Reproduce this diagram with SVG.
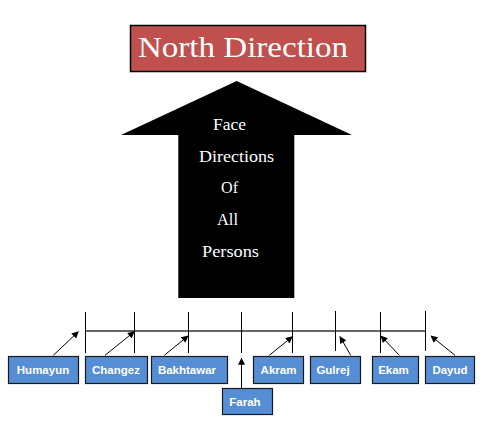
<svg xmlns="http://www.w3.org/2000/svg" width="483" height="426" viewBox="0 0 483 426">
<defs>
<marker id="ah" viewBox="0 0 10 10" refX="9" refY="5" markerWidth="8" markerHeight="7" markerUnits="userSpaceOnUse" orient="auto">
<path d="M0,0 L10,5 L0,10 z" fill="#000"/>
</marker>
</defs>
<style>
.box{fill:#558ED5;stroke:#1a1a1a;stroke-width:1.2}
.lbl{font-family:"Liberation Sans",Arial,sans-serif;font-weight:bold;font-size:11.5px;fill:#fff;text-anchor:middle}
.arw{stroke:#000;stroke-width:1;fill:none;marker-end:url(#ah)}
.tick{stroke:#000;stroke-width:1}
.ser{font-family:"Liberation Serif","Times New Roman",serif;fill:#fff}
</style>
<rect width="483" height="426" fill="#fff"/>
<g id="title">
<rect x="130.5" y="25.5" width="235" height="46" fill="#C0504D" stroke="#000" stroke-width="1.5"/>
<text class="ser" x="138" y="57" font-size="30" textLength="210" lengthAdjust="spacingAndGlyphs">North Direction</text>
</g>
<g id="arrow">
<polygon points="236.7,81 352,135 294.3,135 294.3,298 178.3,298 178.3,135 121,135" fill="#000"/>
<text class="ser" x="213" y="130" font-size="16" textLength="33" lengthAdjust="spacingAndGlyphs">Face</text>
<text class="ser" x="199" y="162" font-size="16" textLength="75" lengthAdjust="spacingAndGlyphs">Directions</text>
<text class="ser" x="221" y="193" font-size="16" textLength="17" lengthAdjust="spacingAndGlyphs">Of</text>
<text class="ser" x="217" y="225" font-size="16" textLength="21" lengthAdjust="spacingAndGlyphs">All</text>
<text class="ser" x="202" y="257" font-size="16" textLength="57" lengthAdjust="spacingAndGlyphs">Persons</text>
</g>
<g id="timeline">
<line x1="85.5" y1="331" x2="425.5" y2="331" stroke="#333" stroke-width="1.3"/>
<line class="tick" x1="85.5" y1="312" x2="85.5" y2="353"/>
<line class="tick" x1="134.5" y1="312" x2="134.5" y2="353"/>
<line class="tick" x1="188.5" y1="312" x2="188.5" y2="353"/>
<line class="tick" x1="241.5" y1="312" x2="241.5" y2="353"/>
<line class="tick" x1="292.5" y1="312" x2="292.5" y2="353"/>
<line class="tick" x1="335.5" y1="311" x2="335.5" y2="351"/>
<line class="tick" x1="380.5" y1="312" x2="380.5" y2="353"/>
<line class="tick" x1="425.5" y1="311" x2="425.5" y2="351"/>
</g>
<g id="connectors">
<line class="arw" x1="53.3" y1="355.3" x2="78.3" y2="331.7"/>
<line class="arw" x1="105" y1="355.3" x2="134.3" y2="331.7"/>
<line class="arw" x1="164.3" y1="355.3" x2="188" y2="336"/>
<line class="arw" x1="241.5" y1="388" x2="241.5" y2="358.5"/>
<line class="arw" x1="269.3" y1="355.3" x2="292.3" y2="336.7"/>
<line class="arw" x1="350.7" y1="355.3" x2="340" y2="336.7"/>
<line class="arw" x1="399.3" y1="355.3" x2="381" y2="336"/>
<line class="arw" x1="455" y1="355.3" x2="431" y2="336"/>
</g>
<g id="humayun"><rect class="box" x="8.5" y="356.5" width="70" height="27"/><text class="lbl" x="43" y="374">Humayun</text></g>
<g id="changez"><rect class="box" x="85.5" y="356.5" width="62" height="27"/><text class="lbl" x="116" y="374">Changez</text></g>
<g id="bakhtawar"><rect class="box" x="151.5" y="356.5" width="76" height="27"/><text class="lbl" x="187" y="374">Bakhtawar</text></g>
<g id="farah"><rect class="box" x="222.5" y="388.5" width="50" height="26"/><text class="lbl" x="245" y="406">Farah</text></g>
<g id="akram"><rect class="box" x="253.5" y="356.5" width="50" height="27"/><text class="lbl" x="278.5" y="374">Akram</text></g>
<g id="gulrej"><rect class="box" x="310.5" y="356.5" width="50" height="27"/><text class="lbl" x="333" y="374">Gulrej</text></g>
<g id="ekam"><rect class="box" x="372.5" y="356.5" width="46" height="27"/><text class="lbl" x="393.5" y="374">Ekam</text></g>
<g id="dayud"><rect class="box" x="425.5" y="356.5" width="49" height="27"/><text class="lbl" x="450" y="374">Dayud</text></g>
</svg>
